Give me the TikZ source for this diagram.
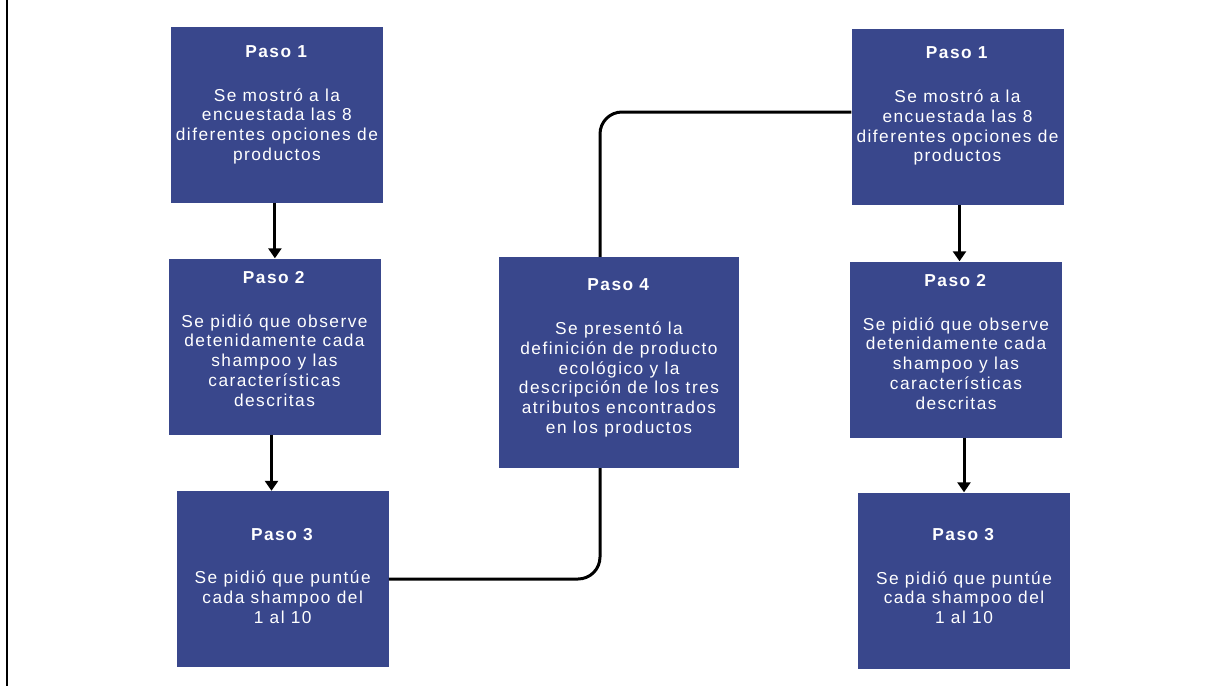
\documentclass[tikz,border=0pt]{standalone}
\usepackage{fontspec}
\setmainfont{Liberation Sans}[LetterSpace=8.5]
\usetikzlibrary{arrows.meta,positioning}
\definecolor{stepblue}{RGB}{57,71,140}

\begin{document}
\begin{tikzpicture}[x=1pt, y=-1pt]
 \tikzset{
stepbox/.style = {rectangle, fill=stepblue, minimum width=212pt, minimum height=176pt, inner sep=0pt},
steptext/.style = {anchor=north, align=center, text=white, inner sep=0pt, font=\fontsize{17.3}{19.7}\selectfont},
flow/.style = {line width=3pt, -{Triangle[width=13pt,length=10pt]}},
link/.style = {line width=3pt, rounded corners=22pt}}

\useasboundingbox (0,0) rectangle (1231,686);
\draw [line width=2pt] (7,0) -- (7,686);

     % left column
     \node [stepbox] (L1) at (276.9,114.5) {};
     \node [stepbox] (L2) at (274.5,346.5) {};
     \node [stepbox] (L3) at (282.7,579) {};
     \node [steptext,yshift=-19pt] at (L1.north) {\textbf{Paso 1}\\[24pt]Se mostró a la\\encuestada las 8\\diferentes opciones de\\productos};
     \node [steptext,yshift=-13pt] at (L2.north) {\textbf{Paso 2}\\[24pt]Se pidió que observe\\detenidamente cada\\shampoo y las\\características\\descritas};
     \node [steptext,yshift=-37pt] at (L3.north) {\textbf{Paso 3}\\[24pt]Se pidió que puntúe\\cada shampoo del\\1 al 10};

     % middle
     \node [stepbox, minimum width=240pt, minimum height=211pt] (P4) at (619,362.5) {};
     \node [steptext,yshift=-22pt] at (P4.north) {\textbf{Paso 4}\\[24pt]Se presentó la\\definición de producto\\ecológico y la\\descripción de los tres\\atributos encontrados\\en los productos};

     % right column
     \node [stepbox] (R1) at (957.5,117) {};
     \node [stepbox] (R2) at (956,349.5) {};
     \node [stepbox] (R3) at (964,580.5) {};
     \node [steptext,yshift=-18pt] at (R1.north) {\textbf{Paso 1}\\[24pt]Se mostró a la\\encuestada las 8\\diferentes opciones de\\productos};
     \node [steptext,yshift=-13pt] at (R2.north) {\textbf{Paso 2}\\[24pt]Se pidió que observe\\detenidamente cada\\shampoo y las\\características\\descritas};
     \node [steptext,yshift=-36pt] at (R3.north) {\textbf{Paso 3}\\[24pt]Se pidió que puntúe\\cada shampoo del\\1 al 10};

      \coordinate (P4in) at ([xshift=-19pt]P4.south);
      \coordinate (P4out) at ([xshift=-19pt]P4.north);
      \coordinate (R1in) at ([yshift=5pt]R1.west);

      \draw [flow] ([xshift=-2pt]L1.south) -- ([xshift=-2pt]L1.south |- L2.north);
      \draw [flow] ([xshift=-3pt]L2.south) -- ([xshift=-3pt]L2.south |- L3.north);
      \draw [flow] ([xshift=2pt]R1.south) -- ([xshift=2pt]R1.south |- R2.north);
      \draw [flow] ([xshift=8pt]R2.south) -- ([xshift=8pt]R2.south |- R3.north);

      \draw [link] (L3.east) -| (P4in);
      \draw [link] (P4out) |- (R1in);

  \end{tikzpicture}
\end{document}
